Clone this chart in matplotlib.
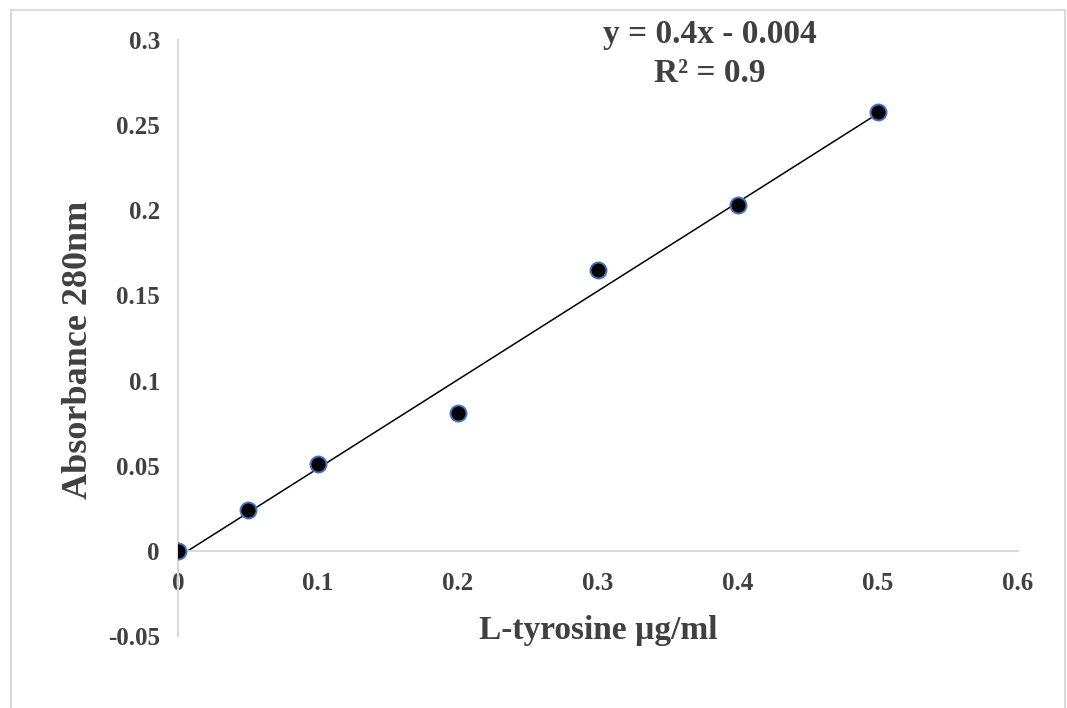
import matplotlib.pyplot as plt
import numpy as np
from matplotlib.patches import Rectangle

# standard curve data
conc = [0, 0.05, 0.1, 0.2, 0.3, 0.4, 0.5]
absorb = [0.0, 0.024, 0.051, 0.081, 0.165, 0.203, 0.258]

xticks = [0, 0.1, 0.2, 0.3, 0.4, 0.5, 0.6]
xticklabels = ["0", "0.1", "0.2", "0.3", "0.4", "0.5", "0.6"]
yticks = [-0.05, 0, 0.05, 0.1, 0.15, 0.2, 0.25, 0.3]
yticklabels = ["-0.05", "0", "0.05", "0.1", "0.15", "0.2", "0.25", "0.3"]

eq_text = "y = 0.4x - 0.004\nR² = 0.9"

txt = "#404040"
grey = "#d9d9d9"
plt.rcParams["font.family"] = ["Liberation Serif", "DejaVu Serif"]
plt.rcParams["font.weight"] = "bold"

fig = plt.figure(figsize=(10.67, 7.08), dpi=100)
ax = fig.add_axes([0.1668, 0.1017, 0.7873, 0.8418])

# linear trendline over the data range
slope, icpt = np.polyfit(conc, absorb, 1)
xs = np.array([min(conc), max(conc)])
ax.plot(xs, slope * xs + icpt, color="black", lw=1.1, zorder=2)

ax.plot(conc, absorb, "o", ms=11.5, mfc="black", mec="#4472C4", mew=1.4, zorder=3)

ax.set_xlim(0, 0.6)
ax.set_ylim(-0.05, 0.3)
ax.set_xticks(xticks)
ax.set_xticklabels(xticklabels)
ax.set_yticks(yticks)
ax.set_yticklabels(yticklabels)

for s in ["top", "right"]:
    ax.spines[s].set_visible(False)
ax.spines["bottom"].set_position(("data", 0))
for s in ["left", "bottom"]:
    ax.spines[s].set_color(grey)
    ax.spines[s].set_linewidth(1.5)

ax.tick_params(axis="x", length=0, pad=15, labelsize=18, labelcolor=txt)
ax.tick_params(axis="y", length=0, pad=13, labelsize=18, labelcolor=txt)

ax.text(0.5, 0.01, "L-tyrosine µg/ml", transform=ax.transAxes, ha="center",
        va="center", fontsize=24, color=txt)
ax.text(-0.119, 0.48, "Absorbance 280nm", transform=ax.transAxes, ha="center",
        va="center", rotation=90, fontsize=26, color=txt)

fig.text(710 / 1067, 1 - 54 / 708, eq_text, ha="center", va="center",
         fontsize=24, color=txt, multialignment="center", linespacing=1.3)

# chart area border
fig.patches.append(Rectangle((11 / 1067, -0.05), 1054 / 1067, 1.05 - 9.5 / 708,
                             transform=fig.transFigure, fill=False,
                             edgecolor=grey, lw=1.5))

fig.savefig("out.png", dpi=100)
